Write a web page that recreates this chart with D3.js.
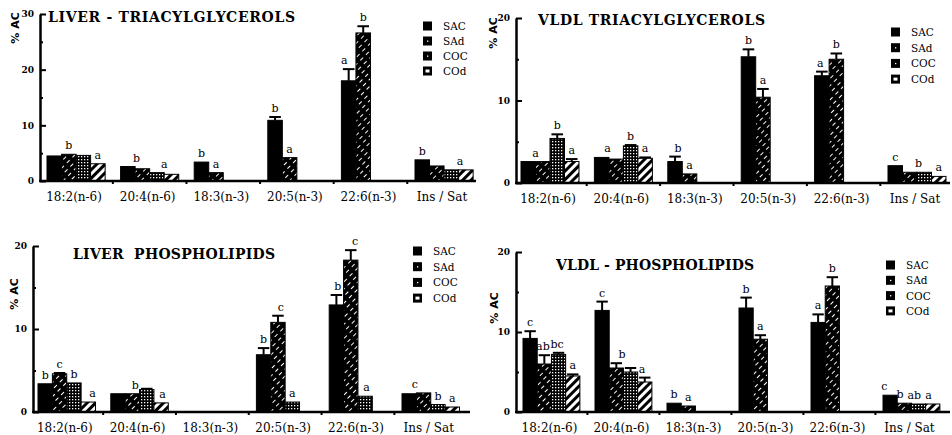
<!DOCTYPE html>
<html>
<head>
<meta charset="utf-8">
<script src="https://cdn.jsdelivr.net/npm/d3@7"></script>
<style>
  body { margin: 0; background: #fff; }
  svg { display: block; }
</style>
</head>
<body>
<svg id="chart" width="952" height="435"></svg>
<script>
// categories and groups shared by all four panels
const categories = ["18:2(n-6)", "20:4(n-6)", "18:3(n-3)", "20:5(n-3)", "22:6(n-3)", "Ins / Sat"];
const groups = ["SAC", "SAd", "COC", "COd"];

// one row per group (SAC, SAd, COC, COd), one value per category, null = no bar
const liverTgValues = [
  [4.5, 2.6, 3.4, 10.9, 18.0, 3.8],
  [4.8, 2.2, 1.5, 4.2, 26.6, 2.7],
  [4.6, 1.5, null, null, null, 2.0],
  [3.1, 1.2, null, null, null, 2.0]
];
const liverTgErrors = [
  [0, 0, 0, 0.6, 2.1, 0],
  [0, 0, 0, 0, 1.2, 0],
  [0, 0, 0, 0, 0, 0],
  [0, 0, 0, 0, 0, 0]
];
// [category index, bar slot, letter]
const liverTgLetters = [[0, 1, "b"], [0, 3, "a"], [1, 0.6, "b"], [1, 2.5, "a"], [2, 0, "b"], [2, 1, "a"],
  [3, 0, "b"], [3, 1, "a"], [4, -0.3, "a"], [4, 1, "b"], [5, 0, "b"], [5, 2.6, "a"]];

const vldlTgValues = [
  [2.6, 3.1, 2.6, 15.3, 13.0, 2.1],
  [2.6, 2.9, 1.1, 10.4, 15.0, 1.3],
  [5.4, 4.5, null, null, null, 1.3],
  [2.6, 3.0, null, null, null, 0.8]
];
const vldlTgErrors = [
  [0, 0, 0.6, 0.9, 0.5, 0],
  [0, 0, 0, 1.0, 0.7, 0],
  [0.5, 0.1, 0, 0, 0, 0],
  [0.3, 0.1, 0, 0, 0, 0]
];
const vldlTgLetters = [[0, 0.5, "a"], [0, 2, "b"], [0, 3, "a"], [1, 0.4, "a"], [1, 2, "b"], [1, 3, "a"],
  [2, 0.2, "b"], [2, 1, "a"], [3, 0, "b"], [3, 1, "a"], [4, -0.1, "a"], [4, 1, "b"],
  [5, 0, "c"], [5, 1.6, "b"], [5, 3, "a"]];

const liverPlValues = [
  [3.4, 2.2, null, 6.9, 12.9, 2.2],
  [4.6, 2.2, null, 10.8, 18.3, 2.3],
  [3.5, 2.7, null, 1.2, 1.9, 0.9],
  [1.2, 1.1, null, null, null, 0.6]
];
const liverPlErrors = [
  [0, 0, 0, 0.8, 1.2, 0],
  [0.1, 0, 0, 0.8, 1.2, 0],
  [0, 0.1, 0, 0, 0, 0],
  [0, 0, 0, 0, 0, 0]
];
const liverPlLetters = [[0, 0, "b"], [0, 1, "c"], [0, 2, "b"], [0, 3.3, "a"], [1, 1.2, "b"], [1, 3.1, "a"],
  [3, 0, "b"], [3, 1.2, "c"], [3, 2, "a"], [4, 0.1, "b"], [4, 1.3, "c"], [4, 2.1, "a"],
  [5, 0.4, "c"], [5, 2, "b"], [5, 3, "a"]];

const vldlPlValues = [
  [9.2, 12.7, 1.1, 13.0, 11.2, 2.1],
  [6.0, 5.5, 0.75, 9.1, 15.75, 1.1],
  [7.2, 5.0, null, null, null, 1.0],
  [4.5, 3.75, null, null, null, 1.0]
];
const vldlPlErrors = [
  [0.9, 1.1, 0, 1.3, 1.0, 0],
  [1.1, 0.6, 0, 0.5, 1.1, 0],
  [0.2, 0.5, 0, 0, 0, 0],
  [0.2, 0.55, 0, 0, 0, 0]
];
const vldlPlLetters = [[0, 0, "c"], [0, 0.9, "ab"], [0, 1.9, "bc"], [0, 3, "a"], [1, 0, "c"], [1, 1.4, "b"], [1, 2.8, "a"],
  [2, 0, "b"], [2, 1, "a"], [3, 0, "b"], [3, 1, "a"], [4, 0, "a"], [4, 1, "b"],
  [5, -0.4, "c"], [5, 0.7, "b"], [5, 1.7, "ab"], [5, 2.7, "a"]];

// layout of each panel on the page
const panels = [
  { title: "LIVER - TRIACYLGLYCEROLS", titleX: 48, titleY: 22, titleW: 247,
    values: liverTgValues, errors: liverTgErrors, letters: liverTgLetters,
    yMax: 30, ticks: [0, 10, 20, 30], minor: [5, 15, 25],
    axisX: 40, axisEnd: 476, y0: 181, yTop: 14, groupStart: 47, step: 73.6,
    legendX: 423, legendY: 26, legendStep: 15, ylabX: 15, ylabY: 28 },
  { title: "VLDL TRIACYLGLYCEROLS", titleX: 538, titleY: 25, titleW: 227,
    values: vldlTgValues, errors: vldlTgErrors, letters: vldlTgLetters,
    yMax: 20, ticks: [0, 10, 20], minor: [5, 15],
    axisX: 516, axisEnd: 950, y0: 183, yTop: 18, groupStart: 521, step: 73.4,
    legendX: 891, legendY: 32, legendStep: 15.7, ylabX: 493, ylabY: 33 },
  { title: "LIVER  PHOSPHOLIPIDS", titleX: 73, titleY: 259, titleW: 202,
    values: liverPlValues, errors: liverPlErrors, letters: liverPlLetters,
    yMax: 20, ticks: [0, 10, 20], minor: [5, 15],
    axisX: 33, axisEnd: 470, y0: 412, yTop: 246, groupStart: 38, step: 72.8,
    legendX: 413, legendY: 251, legendStep: 15.7, ylabX: 14, ylabY: 294 },
  { title: "VLDL - PHOSPHOLIPIDS", titleX: 556, titleY: 270, titleW: 198,
    values: vldlPlValues, errors: vldlPlErrors, letters: vldlPlLetters,
    yMax: 20, ticks: [0, 10, 20], minor: [5, 15],
    axisX: 516, axisEnd: 950, y0: 412, yTop: 252, groupStart: 523, step: 72,
    legendX: 886, legendY: 265, legendStep: 15.3, ylabX: 494, ylabY: 308 }
];

const svg = d3.select("#chart");
const defs = svg.append("defs");

// SAd: black with sparse white dashes
const pSAd = defs.append("pattern").attr("id", "pSAd")
  .attr("patternUnits", "userSpaceOnUse").attr("width", 5).attr("height", 8)
  .attr("patternTransform", "rotate(45)");
pSAd.append("rect").attr("width", 5).attr("height", 8).attr("fill", "#000");
pSAd.append("line").attr("x1", 2.5).attr("x2", 2.5).attr("y1", 0).attr("y2", 8)
  .attr("stroke", "#fff").attr("stroke-width", 1).attr("stroke-dasharray", "4 4");

// COC: black with white dots
const pCOC = defs.append("pattern").attr("id", "pCOC")
  .attr("patternUnits", "userSpaceOnUse").attr("width", 3).attr("height", 3);
pCOC.append("rect").attr("width", 3).attr("height", 3).attr("fill", "#000");
pCOC.append("rect").attr("width", 1.3).attr("height", 1.3).attr("fill", "#fff");

// COd: wide white diagonal stripes
const pCOd = defs.append("pattern").attr("id", "pCOd")
  .attr("patternUnits", "userSpaceOnUse").attr("width", 6).attr("height", 6)
  .attr("patternTransform", "rotate(45)");
pCOd.append("rect").attr("width", 6).attr("height", 6).attr("fill", "#000");
pCOd.append("rect").attr("width", 3).attr("height", 6).attr("fill", "#fff");

const fills = { SAC: "#000", SAd: "url(#pSAd)", COC: "url(#pCOC)", COd: "url(#pCOd)" };
const pad = 0.21;

panels.forEach(p => drawPanel(p));

function drawPanel(p) {
  const g = svg.append("g");

  const y = d3.scaleLinear().domain([0, p.yMax]).range([p.y0, p.yTop]);
  const r0 = p.groupStart - p.step * pad / 2;
  const x = d3.scaleBand()
    .domain(categories)
    .range([r0, r0 + p.step * categories.length])
    .paddingInner(pad)
    .paddingOuter(pad / 2);
  const xi = d3.scaleBand().domain(groups).range([0, x.bandwidth()]);

  const bars = [];
  p.values.forEach((row, gi) => row.forEach((v, ci) => {
    if (v != null) bars.push({ cat: categories[ci], grp: groups[gi], v: v, e: p.errors[gi][ci] || 0 });
  }));

  g.selectAll("rect.bar")
    .data(bars)
    .join("rect")
    .attr("class", "bar")
    .attr("x", d => x(d.cat) + xi(d.grp))
    .attr("y", d => y(d.v))
    .attr("width", xi.bandwidth())
    .attr("height", d => y(0) - y(d.v))
    .attr("fill", d => fills[d.grp])
    .attr("stroke", "#000")
    .attr("stroke-width", 1);

  // error bars (upper half only)
  const errs = bars.filter(d => d.e > 0);
  const cx = d => x(d.cat) + xi(d.grp) + xi.bandwidth() / 2;
  g.selectAll("line.err").data(errs).join("line")
    .attr("class", "err")
    .attr("x1", cx).attr("x2", cx)
    .attr("y1", d => y(d.v)).attr("y2", d => y(d.v + d.e))
    .attr("stroke", "#000").attr("stroke-width", 2);
  g.selectAll("line.cap").data(errs).join("line")
    .attr("class", "cap")
    .attr("x1", d => cx(d) - xi.bandwidth() * 0.4)
    .attr("x2", d => cx(d) + xi.bandwidth() * 0.4)
    .attr("y1", d => y(d.v + d.e)).attr("y2", d => y(d.v + d.e))
    .attr("stroke", "#000").attr("stroke-width", 2);

  // significance letters, sitting on the bar (or bar pair) they belong to
  g.selectAll("text.sig")
    .data(p.letters)
    .join("text")
    .attr("class", "sig")
    .attr("x", d => x(categories[d[0]]) + (d[1] + 0.5) * xi.step())
    .attr("y", d => {
      const s = d[1];
      let slots = Math.abs(s - Math.round(s)) < 0.35 ? [Math.round(s)] : [Math.floor(s), Math.ceil(s)];
      slots = slots.map(k => Math.max(0, Math.min(3, k)));
      const top = d3.max(slots, k => {
        const v = p.values[k][d[0]];
        return v == null ? 0 : v + (p.errors[k][d[0]] || 0);
      });
      return y(top) - 5;
    })
    .attr("text-anchor", "middle")
    .attr("fill", "#000")
    .style("font-family", "'DejaVu Serif', serif")
    .style("font-size", "11px")
    .text(d => d[2]);

  // y axis
  const yAxis = g.append("g")
    .attr("transform", `translate(${p.axisX},0)`)
    .call(d3.axisLeft(y).tickValues(p.ticks).tickSize(-6).tickSizeOuter(0).tickPadding(6).tickFormat(d3.format("d")));
  yAxis.select(".domain").attr("stroke-width", 2.5);
  yAxis.selectAll(".tick line").attr("stroke-width", 2);
  yAxis.selectAll("text")
    .attr("fill", "#000")
    .style("font-family", "'DejaVu Serif', serif")
    .style("font-weight", "bold")
    .style("font-size", "9px");

  g.append("g")
    .attr("transform", `translate(${p.axisX},0)`)
    .call(d3.axisLeft(y).tickValues(p.minor).tickSize(-3).tickFormat(""))
    .call(a => a.select(".domain").remove())
    .selectAll(".tick line").attr("stroke-width", 2);

  // x axis baseline and group separators
  g.append("line")
    .attr("x1", p.axisX - 1).attr("x2", p.axisEnd)
    .attr("y1", y(0)).attr("y2", y(0))
    .attr("stroke", "#000").attr("stroke-width", 2.5);
  g.selectAll("line.sep")
    .data(categories.slice(1))
    .join("line")
    .attr("class", "sep")
    .attr("x1", d => x(d) - x.step() * pad / 2)
    .attr("x2", d => x(d) - x.step() * pad / 2)
    .attr("y1", y(0)).attr("y2", y(0) + 3)
    .attr("stroke", "#000").attr("stroke-width", 2);

  const xAxis = g.append("g")
    .attr("transform", `translate(-2,${y(0)})`)
    .call(d3.axisBottom(x).tickSize(0).tickPadding(11.5));
  xAxis.select(".domain").remove();
  xAxis.selectAll("text")
    .attr("fill", "#000")
    .style("font-family", "'DejaVu Serif', serif")
    .style("font-size", "12px");

  // title
  g.append("text")
    .attr("x", p.titleX)
    .attr("y", p.titleY)
    .attr("textLength", p.titleW)
    .attr("fill", "#000")
    .style("white-space", "pre")
    .style("font-family", "'DejaVu Serif', serif")
    .style("font-weight", "bold")
    .style("font-size", "14px")
    .text(p.title);

  // y label
  g.append("text")
    .attr("transform", `translate(${p.ylabX + 4},${p.ylabY}) rotate(-90)`)
    .attr("text-anchor", "middle")
    .attr("fill", "#000")
    .style("font-family", "'DejaVu Sans', sans-serif")
    .style("font-weight", "bold")
    .style("font-size", "11px")
    .text("% AC");

  // legend
  const leg = g.selectAll("g.leg")
    .data(groups)
    .join("g")
    .attr("class", "leg")
    .attr("transform", (d, i) => `translate(${p.legendX},${p.legendY + i * p.legendStep})`);
  leg.append("rect")
    .attr("x", 0).attr("y", -4.5)
    .attr("width", 9).attr("height", 9)
    .attr("fill", "#000");
  leg.filter(d => d !== "SAC").append("rect")
    .attr("x", d => d === "COd" ? 2.5 : 4)
    .attr("y", d => d === "COd" ? -1.5 : -0.5)
    .attr("width", d => d === "COd" ? 4 : 1.3)
    .attr("height", d => d === "COd" ? 3 : 1.3)
    .attr("fill", "#fff");
  leg.append("text")
    .attr("x", 20)
    .attr("y", 4)
    .attr("fill", "#000")
    .style("font-family", "'DejaVu Serif', serif")
    .style("font-size", "10.5px")
    .text(d => d);
}
</script>
</body>
</html>
